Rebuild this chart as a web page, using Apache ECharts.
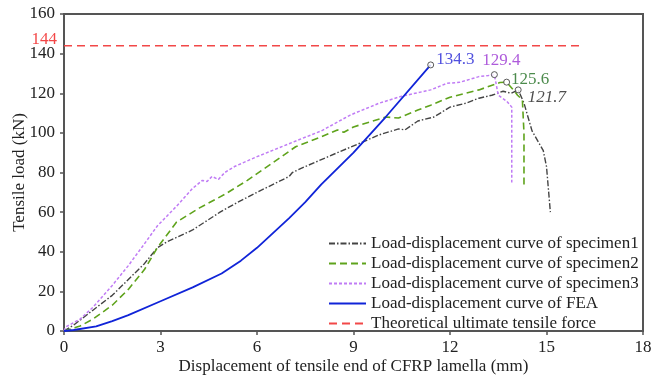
<!DOCTYPE html>
<html>
<head>
<meta charset="utf-8">
<script src="https://cdn.jsdelivr.net/npm/echarts@6/dist/echarts.min.js"></script>
<style>
  html, body { margin: 0; padding: 0; background: #fff; }
  #chart { width: 652px; height: 381px; }
</style>
</head>
<body>
<div id="chart"></div>
<script>
// Load–displacement data, [displacement (mm), load (kN)]
const specimen1 = [
  [0,0],[0.3,3],[0.9,10.5],[1.5,18],[2,26],[2.5,34],[2.9,42],[3.2,45],[4,51],[4.85,60],
  [5.4,65],[6,70],[6.5,74],[7,78],[7.1,80],[7.5,83],[8.5,90],[9.3,95.5],[9.8,99],[10.4,102],
  [10.6,101.5],[11,106],[11.5,108],[12,113],[12.5,115],[12.9,117.5],[13.3,119],[13.65,121],
  [13.9,120],[14.12,121.7],[14.3,115],[14.55,101],[14.9,91],[15.0,83],[15.12,60]
];
const specimen2 = [
  [0,0],[0.5,2.5],[0.9,6],[1.5,13],[2,21],[2.5,31],[2.9,42],[3.5,55],[4.2,62],[5,69],
  [5.7,76],[6.5,85],[7.2,93],[8,98],[8.5,101.5],[8.7,100.3],[9,103],[10,108],[10.4,107.5],
  [11,111.5],[11.4,114],[12,118],[12.9,121.7],[13.55,125.4],[13.76,125.6],[13.97,121.7],
  [14.1,119],[14.25,116.7],[14.3,100],[14.3,72]
];
const specimen3 = [
  [0,0],[0.05,2],[0.5,6],[0.9,12],[1.5,23],[2,33],[2.5,44],[2.9,53],[3.5,63],[4,72],
  [4.3,76],[4.45,75.5],[4.6,78],[4.8,76.5],[5.0,80],[5.3,83],[6,88],[7.3,96.5],[8,101],
  [8.9,109],[9.8,115],[10.5,118.5],[11.4,121.7],[11.9,125],[12.3,125.5],[12.9,128.4],
  [13.2,129],[13.38,129.4],[13.5,119],[13.76,116],[13.92,113],[13.92,75]
];
const fea = [
  [0,0],[0.3,0.5],[1.0,2.3],[1.5,5],[2,8],[3,15],[4,22],[4.9,29],[5.5,35.5],[6,42],
  [7,57],[7.5,65],[8,74],[9,90],[10,108],[11.4,134.3]
];
const theoretical = [[0,144],[16.1,144]];

// Peak loads marked with open circles
const peakFEA = [11.4, 134.3];
const peak3 = [13.38, 129.4];
const peak2 = [13.76, 125.6];
const peak1 = [14.12, 121.7];

const xTicks = [0, 3, 6, 9, 12, 15, 18];
const yTicks = [0, 20, 40, 60, 80, 100, 120, 140, 160];

const seriesNames = [
  'Load-displacement curve of specimen1',
  'Load-displacement curve of specimen2',
  'Load-displacement curve of specimen3',
  'Load-displacement curve of FEA',
  'Theoretical ultimate tensile force'
];

const FONT = '"Liberation Serif", "Times New Roman", serif';
const FS = 17;
const AXIS = '#555';

function peakSeries(pt, color, pos, offset, distance, italic) {
  return {
    type: 'scatter',
    data: [pt],
    symbol: 'circle',
    symbolSize: 6,
    itemStyle: { color: '#fff', borderColor: '#333', borderWidth: 1 },
    label: {
      show: true,
      position: pos,
      offset: offset,
      distance: distance,
      formatter: p => p.value[1].toFixed(1),
      color: color,
      fontFamily: FONT,
      fontSize: FS,
      fontStyle: italic ? 'italic' : 'normal'
    },
    silent: true,
    z: 5
  };
}

const chart = echarts.init(document.getElementById('chart'), null, { renderer: 'canvas' });
chart.setOption({
  animation: false,
  backgroundColor: '#fff',
  grid: {
    left: 64, right: 9, top: 14, bottom: 50,
    outerBoundsMode: 'none',
    containLabel: false,
    show: true, borderColor: AXIS, borderWidth: 2, backgroundColor: 'transparent'
  },
  xAxis: {
    type: 'value', min: xTicks[0], max: xTicks[xTicks.length - 1], interval: 3,
    name: 'Displacement of tensile end of CFRP lamella (mm)',
    nameLocation: 'middle', nameGap: 27, nameMoveOverlap: false,
    nameTextStyle: { fontFamily: FONT, fontSize: FS, color: '#222' },
    axisLine: { lineStyle: { color: AXIS, width: 2 } },
    axisTick: { show: true, length: 4, lineStyle: { color: AXIS, width: 1.5 } },
    axisLabel: { fontFamily: FONT, fontSize: FS, color: '#222', margin: 8 },
    splitLine: { show: false }
  },
  yAxis: {
    type: 'value', min: yTicks[0], max: yTicks[yTicks.length - 1], interval: 20,
    name: 'Tensile load (kN)',
    nameLocation: 'middle', nameGap: 36, nameMoveOverlap: false,
    nameTextStyle: { fontFamily: FONT, fontSize: FS, color: '#222' },
    axisLine: { show: true, lineStyle: { color: AXIS, width: 2 } },
    axisTick: { show: true, length: 4, lineStyle: { color: AXIS, width: 1.5 } },
    axisLabel: { fontFamily: FONT, fontSize: FS, color: '#222', margin: 9 },
    splitLine: { show: false }
  },
  legend: {
    orient: 'vertical',
    left: 323, top: 230,
    itemWidth: 37, itemHeight: 10, itemGap: 3,
    data: seriesNames,
    itemStyle: { opacity: 0 },
    textStyle: { fontFamily: FONT, fontSize: FS, color: '#222' }
  },
  series: [
    {
      name: seriesNames[0], type: 'line', data: specimen1, symbol: 'none',
      lineStyle: { color: '#444', width: 1.4, type: [6, 2, 1.5, 2] },
      itemStyle: { color: '#444' }, z: 3
    },
    {
      name: seriesNames[1], type: 'line', data: specimen2, symbol: 'none',
      lineStyle: { color: '#5fa31c', width: 1.6, type: [7, 4] },
      itemStyle: { color: '#5fa31c' }, z: 3
    },
    {
      name: seriesNames[2], type: 'line', data: specimen3, symbol: 'none',
      lineStyle: { color: '#c07cf5', width: 1.5, type: [3, 2] },
      itemStyle: { color: '#c07cf5' }, z: 3
    },
    {
      name: seriesNames[3], type: 'line', data: fea, symbol: 'none',
      lineStyle: { color: '#1024d8', width: 1.8, type: 'solid' },
      itemStyle: { color: '#1024d8' }, z: 4
    },
    {
      name: seriesNames[4], type: 'line', data: theoretical, symbol: 'none',
      lineStyle: { color: '#f24848', width: 1.6, type: [8, 5] },
      itemStyle: { color: '#f24848' }, z: 2
    },
    {
      // value label of the theoretical force, left of the y axis
      type: 'scatter', data: [theoretical[0]], symbolSize: 0.01, silent: true,
      itemStyle: { color: '#f24848' },
      label: {
        show: true, formatter: p => String(p.value[1]),
        position: 'left', distance: 7, offset: [0, -6],
        color: '#f01818', fontFamily: FONT, fontSize: FS
      }
    },
    peakSeries(peakFEA, '#2626d6', 'right', [0, -5], 2, false),
    peakSeries(peak3, '#9a32d2', 'top', [7, 0], 2, false),
    peakSeries(peak2, '#1f6e1f', 'right', [0, -3], 1, false),
    peakSeries(peak1, '#222', 'right', [0, 8], 6, true)
  ]
});
</script>
</body>
</html>
